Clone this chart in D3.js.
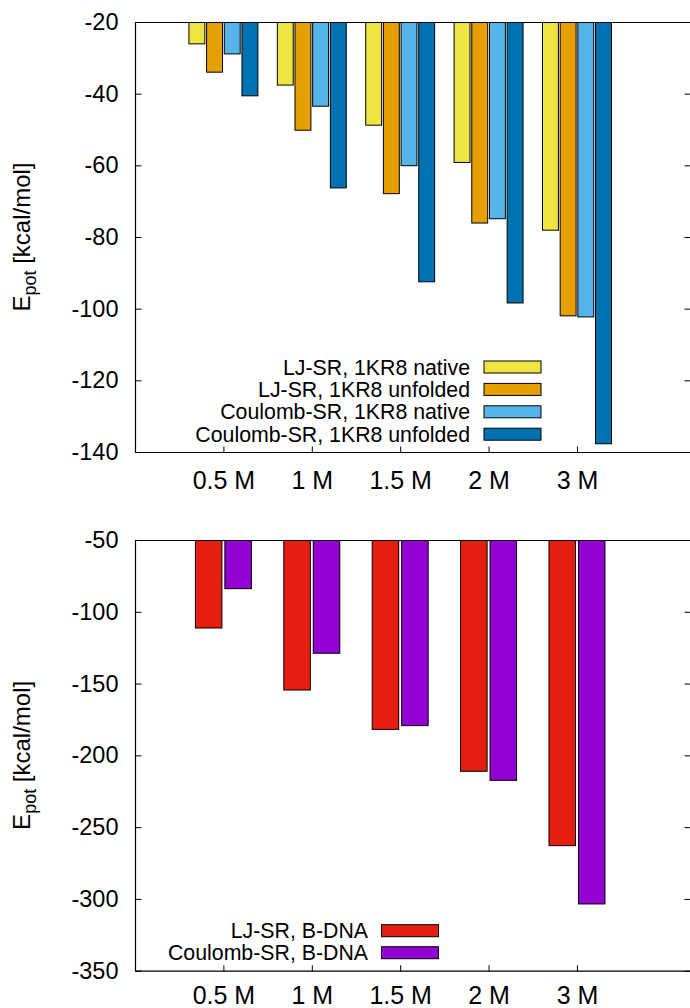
<!DOCTYPE html>
<html>
<head>
<meta charset="utf-8">
<script src="https://cdn.jsdelivr.net/npm/d3@7"></script>
<style>
  html, body { margin: 0; padding: 0; background: #fff; }
  svg { display: block; font-family: "Liberation Sans", Arial, Helvetica, sans-serif; }
</style>
</head>
<body>
<svg id="chart" width="690" height="1008"></svg>
<script>
// Salt concentrations shared by both panels
const categories = ["0.5 M", "1 M", "1.5 M", "2 M", "3 M"];

// Protein 1KR8: short-range interaction energies (kcal/mol)
const ljNative        = [-26.1, -37.6, -48.8, -59.2, -78.1];
const ljUnfolded      = [-34.0, -50.2, -67.9, -76.1, -102.0];
const coulombNative   = [-28.9, -43.5, -60.1, -74.9, -102.3];
const coulombUnfolded = [-40.6, -66.3, -92.5, -98.4, -137.7];

// B-DNA: short-range interaction energies (kcal/mol)
const ljDNA      = [-111.3, -154.5, -181.9, -211.1, -262.9];
const coulombDNA = [-83.9, -128.9, -179.3, -217.4, -303.5];

// Axis ticks
const topTicks    = [-20, -40, -60, -80, -100, -120, -140];
const bottomTicks = [-50, -100, -150, -200, -250, -300, -350];

const topSeries = [
  { name: "LJ-SR, 1KR8 native",        values: ljNative,        color: "#f0e442" },
  { name: "LJ-SR, 1KR8 unfolded",      values: ljUnfolded,      color: "#e69f00" },
  { name: "Coulomb-SR, 1KR8 native",   values: coulombNative,   color: "#56b4e9" },
  { name: "Coulomb-SR, 1KR8 unfolded", values: coulombUnfolded, color: "#0072b2" }
];
const bottomSeries = [
  { name: "LJ-SR, B-DNA",      values: ljDNA,      color: "#e51e10" },
  { name: "Coulomb-SR, B-DNA", values: coulombDNA, color: "#9400d3" }
];

const svg = d3.select("#chart");
const left = 135, right = 691;

function drawPanel(opts) {
  const { top, bottom, domain, ticks, series, legend, id, xPad } = opts;
  const g = svg.append("g");

  const x = d3.scaleLinear().domain([-1, 5.29]).range([left, right]);
  const y = d3.scaleLinear().domain(domain).range([top, bottom]);
  const n = series.length;
  const slot = (x(1) - x(0)) / (n + 1);
  const inner = d3.scaleBand()
    .domain(d3.range(n))
    .range([-n / 2 * slot, n / 2 * slot])
    .paddingInner(0.1)
    .paddingOuter(0.05);

  const clipId = "clip-" + id;
  g.append("clipPath").attr("id", clipId)
    .append("rect")
    .attr("x", left).attr("y", top)
    .attr("width", right - left).attr("height", bottom - top);

  // Bars hang from the top of the panel down to each value
  const bars = g.append("g").attr("clip-path", `url(#${clipId})`);
  series.forEach((s, j) => {
    bars.selectAll(null)
      .data(s.values)
      .join("rect")
      .attr("x", (d, i) => x(i) + inner(j))
      .attr("width", inner.bandwidth())
      .attr("y", y(domain[0]))
      .attr("height", d => y(d) - y(domain[0]))
      .attr("fill", s.color)
      .attr("stroke", "#000")
      .attr("stroke-width", 1);
  });

  // Frame
  g.append("path")
    .attr("d", `M${right},${top + 0.5}H${left + 0.5}V${bottom + 0.5}H${right}`)
    .attr("fill", "none").attr("stroke", "#000").attr("stroke-width", 1.2);

  // Left axis: inward ticks with labels outside
  const yAxis = d3.axisLeft(y).tickValues(ticks).tickFormat(d => String(d))
    .tickSizeInner(-6).tickSizeOuter(0).tickPadding(17);
  const ya = g.append("g").attr("transform", `translate(${left + 0.5},0)`).call(yAxis);
  ya.select(".domain").remove();
  ya.selectAll(".tick line").attr("stroke", "#000");
  ya.selectAll(".tick text")
    .attr("font-size", 23.5).attr("fill", "#000")
    .attr("font-family", "Liberation Sans, Arial, sans-serif");

  // Right side mirrored ticks
  const yr = d3.axisRight(y).tickValues(ticks).tickSizeInner(-6).tickSizeOuter(0).tickFormat("");
  const yra = g.append("g").attr("transform", `translate(${right - 0.5},0)`).call(yr);
  yra.select(".domain").remove();
  yra.selectAll(".tick line").attr("stroke", "#000");

  // Bottom axis: category ticks pointing up
  const xAxis = d3.axisBottom(x).tickValues(d3.range(categories.length))
    .tickFormat(i => categories[i]).tickSizeInner(-6).tickSizeOuter(0).tickPadding(xPad);
  const xa = g.append("g").attr("transform", `translate(0,${bottom + 0.5})`).call(xAxis);
  xa.select(".domain").remove();
  xa.selectAll(".tick line").attr("stroke", "#000");
  xa.selectAll(".tick text")
    .attr("font-size", 25).attr("fill", "#000")
    .attr("font-family", "Liberation Sans, Arial, sans-serif");

  // Y axis title
  const t = g.append("text")
    .attr("transform", `translate(30,${(top + bottom) / 2}) rotate(-90)`)
    .attr("text-anchor", "middle")
    .attr("font-size", 24)
    .attr("fill", "#000");
  t.append("tspan").text("E");
  t.append("tspan").attr("font-size", 18).attr("dy", 6).text("pot");
  t.append("tspan").attr("dy", -6).text(" [kcal/mol]");

  // Legend
  const lg = g.append("g");
  series.forEach((s, j) => {
    const cy = legend.y + j * legend.step;
    lg.append("text")
      .attr("x", legend.textRight).attr("y", cy + 7.5)
      .attr("text-anchor", "end").attr("font-size", 21.3).attr("fill", "#000")
      .text(s.name);
    lg.append("rect")
      .attr("x", legend.swatchX).attr("y", cy - 6)
      .attr("width", 57).attr("height", 12)
      .attr("fill", s.color).attr("stroke", "#000").attr("stroke-width", 1);
  });
}

drawPanel({
  id: "top", top: 22, bottom: 452, domain: [-20, -140], ticks: topTicks,
  series: topSeries, xPad: 19,
  legend: { y: 367, step: 22.4, textRight: 470, swatchX: 484 }
});

drawPanel({
  id: "bottom", top: 540, bottom: 970.7, domain: [-50, -350], ticks: bottomTicks,
  series: bottomSeries, xPad: 15,
  legend: { y: 930.7, step: 22, textRight: 368, swatchX: 381.5 }
});
</script>
</body>
</html>
